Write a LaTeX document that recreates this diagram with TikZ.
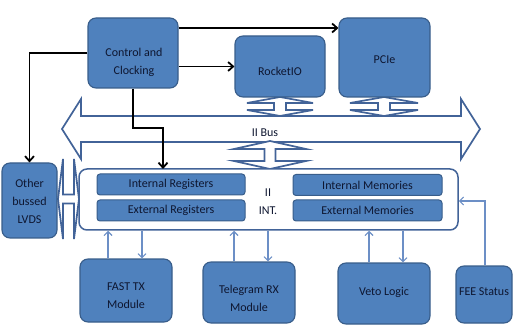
\documentclass[tikz,border=0pt]{standalone}
\usepackage{fontspec}
\setmainfont{Carlito}
\usetikzlibrary{arrows.meta,calc}

\definecolor{boxfill}{RGB}{79,129,189}
\definecolor{boxline}{RGB}{56,93,138}
\definecolor{txtcol}{RGB}{14,22,48}
\definecolor{busline}{RGB}{66,99,152}
\definecolor{linkcol}{RGB}{108,143,198}

% vertical double block arrow: centre x, top y, bottom y, half head width, head length, half shaft width
\newcommand{\vbusarrow}[6]{%
  \draw[busarrow] (#1,#2) -- ({#1+#4},{#2+#5}) -- ({#1+#6},{#2+#5}) -- ({#1+#6},{#3-#5})
    -- ({#1+#4},{#3-#5}) -- (#1,#3) -- ({#1-#4},{#3-#5}) -- ({#1-#6},{#3-#5})
    -- ({#1-#6},{#2+#5}) -- ({#1-#4},{#2+#5}) -- cycle;}
% horizontal double block arrow: centre y, left x, right x, half head height, head length, half shaft height
\newcommand{\hbusarrow}[6]{%
  \draw[busarrow] (#2,#1) -- ({#2+#5},{#1-#4}) -- ({#2+#5},{#1-#6}) -- ({#3-#5},{#1-#6})
    -- ({#3-#5},{#1-#4}) -- (#3,#1) -- ({#3-#5},{#1+#4}) -- ({#3-#5},{#1+#6})
    -- ({#2+#5},{#1+#6}) -- ({#2+#5},{#1+#4}) -- cycle;}

\begin{document}
\begin{tikzpicture}[x=1pt,y=-1pt,
  unit/.style={draw=boxline, fill=boxfill, line width=1.1pt, rounded corners=8pt, inner sep=0pt},
  regbox/.style={draw=boxline, fill=boxfill, line width=1pt, rounded corners=3pt, inner sep=0pt,
    minimum width=148pt, minimum height=21pt, text=txtcol, font=\fontsize{12}{14}\selectfont},
  lbl/.style={text=txtcol, align=center, inner sep=0pt, font=\fontsize{12}{18}\selectfont},
  busarrow/.style={draw=busline, fill=white, line width=1.7pt, line join=miter},
  ctl/.style={draw=black, line width=1.8pt, -{Straight Barb[length=5pt,width=9pt,line width=1.8pt]}},
  link/.style={draw=linkcol, line width=1.1pt, -{Straight Barb[length=4pt,width=8pt,line width=1.1pt]}}]
\useasboundingbox (0,0) rectangle (513,328);

% system bus
\draw[busarrow] (62,129) -- (81,99) -- (81,116) -- (461,116) -- (461,99) -- (480,129)
  -- (461,159) -- (461,142) -- (81,142) -- (81,159) -- cycle;
\node[lbl] (buslbl) at (265,133) {II Bus};

% bus taps
\vbusarrow{280}{97}{116}{33}{6}{6}
\vbusarrow{384}{97}{116}{34}{6}{6}
\vbusarrow{270}{141}{169}{36}{8}{5.5}
\hbusarrow{199}{58}{79}{40}{5}{4.5}

% upper units
\node[unit, minimum width=90pt, minimum height=70pt] (ctrl) at (133,53) {};
\node[lbl] (ctrltxt) at (134,62) {Control and\\Clocking};
\node[unit, minimum width=90pt, minimum height=61pt] (rio) at (280,66.5) {};
\node[lbl] (riotxt) at (280,71) {RocketIO};
\node[unit, minimum width=91pt, minimum height=79pt] (pcie) at (384.5,57.5) {};
\node[lbl] (pcietxt) at (384.5,60) {PCIe};

% side unit
\node[unit, minimum width=55pt, minimum height=75pt] (lvds) at (29.5,200.5) {};
\node[lbl] (lvdstxt) at (29.5,201) {Other\\bussed\\LVDS};

% bus interface block
\node[draw=busline, fill=white, line width=1.5pt, rounded corners=8pt,
  minimum width=379pt, minimum height=61pt, inner sep=0pt] (int) at (268.5,199.5) {};
\node[regbox] (ireg) at (171,184.5) {Internal Registers};
\node[regbox] (ereg) at (171,210.5) {External Registers};
\node[regbox, minimum width=149pt] (imem) at (367.5,185) {Internal Memories};
\node[regbox, minimum width=149pt] (emem) at (367.5,210.5) {External Memories};
\node[lbl] (inttxt) at (268,202) {II\\INT.};

% lower units
\node[unit, minimum width=92pt, minimum height=63pt] (fast) at (126,290.5) {};
\node[lbl] (fasttxt) at (126,296) {FAST TX\\Module};
\node[unit, minimum width=92pt, minimum height=61pt] (tele) at (249,292.5) {};
\node[lbl] (teletxt) at (249,298) {Telegram RX\\Module};
\node[unit, minimum width=92pt, minimum height=61pt] (veto) at (384,293.5) {};
\node[lbl] (vetotxt) at (384,292) {Veto Logic};
\node[unit, minimum width=56pt, minimum height=57pt] (fee) at (484,294.5) {};
\node[lbl] (feetxt) at (484,292) {FEE Status};

% control and clock distribution
\draw[ctl] (ctrl.west) -| (lvds.north);
\draw[ctl] (ctrl.east |- rio.west) -- (rio.west);
\draw[ctl] (ctrl.east |- 0,28) -- (pcie.west |- 0,28);
\coordinate (tap) at (163,169);
\draw[ctl] (ctrl.south) -- (ctrl.south |- 0,128) -| (tap);

% links between the interface and the lower units
\draw[link] (fast.north -| 108,0) -- (int.south -| 108,0);
\draw[link] (int.south -| 142,0) -- (fast.north -| 142,0);
\draw[link] (tele.north -| 234,0) -- (int.south -| 234,0);
\draw[link] (int.south -| 268,0) -- (tele.north -| 268,0);
\draw[link] (veto.north -| 369,0) -- (int.south -| 369,0);
\draw[link] (int.south -| 403,0) -- (veto.north -| 403,0);
\draw[link] (fee.north -| 485,0) |- (int.east |- 0,201);
\end{tikzpicture}
\end{document}
